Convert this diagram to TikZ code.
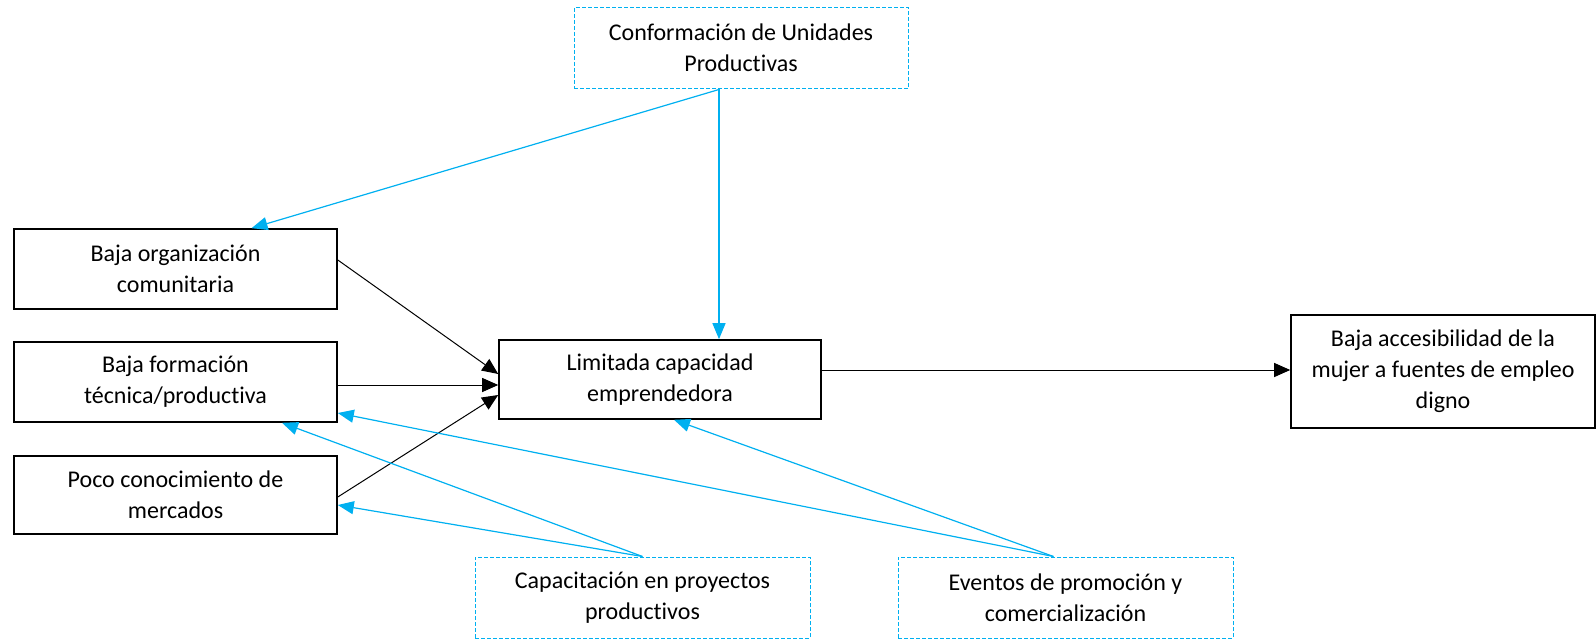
\documentclass[tikz,border=0pt]{standalone}
\usepackage{fontspec}
\setmainfont{Carlito}[RawFeature={-liga;-clig}]
\usetikzlibrary{arrows.meta}
\definecolor{cyanb}{RGB}{0,176,240}
\begin{document}
\begin{tikzpicture}[x=1pt,y=-1pt,
  bbox/.style={draw=black, line width=1.6pt, inner sep=0pt, align=center, font=\fontsize{24}{31}\selectfont},
  dbox/.style={draw=cyanb, line width=1pt, dash pattern=on 4pt off 2pt, inner sep=0pt, align=center, font=\fontsize{24}{31}\selectfont},
  blk/.style={draw=black, line width=1pt, -{Triangle[length=16pt,width=14pt]}},
  blu/.style={draw=cyanb, line width=1.2pt, -{Triangle[length=16pt,width=13pt]}}]
\useasboundingbox (0,0) rectangle (1596,639);
\node[dbox, minimum width=334pt, minimum height=81.5pt] (conf) at (741,48.25) {Conformación de Unidades\\Productivas};
\node[bbox, minimum width=323pt, minimum height=80pt] (b1) at (175.5,269) {Baja organización\\comunitaria};
\node[bbox, minimum width=323pt, minimum height=80pt] (b2) at (175.5,382) {Baja formación\\técnica/productiva};
\node[bbox, minimum width=323pt, minimum height=78pt] (b3) at (175.5,495) {Poco conocimiento de\\mercados};
\node[bbox, minimum width=322pt, minimum height=79pt] (mid) at (660,379.5) {Limitada capacidad\\emprendedora};
\node[bbox, minimum width=304pt, minimum height=113pt] (res) at (1443,371.5) {Baja accesibilidad de la\\mujer a fuentes de empleo\\digno};
\node[dbox, minimum width=335pt, minimum height=81pt] (cap) at (642.5,597.5) {Capacitación en proyectos\\productivos};
\node[dbox, minimum width=335pt, minimum height=81pt] (ev) at (1065.5,597.5) {Eventos de promoción y\\comercialización};

\draw[blu] ([xshift=-22pt]conf.south) -- ([xshift=59pt]mid.north);
\draw[blu] ([xshift=-22pt]conf.south) -- ([xshift=76pt]b1.north);

\draw[blk] ([yshift=9pt]b1.east) -- ([yshift=5.5pt]mid.west);
\draw[blk] ([yshift=-3pt]b2.east) -- ([yshift=-5.5pt]mid.west);
\draw[blk] ([yshift=-2pt]b3.east) -- ([yshift=-15.5pt]mid.west);
\draw[blk] ([yshift=9.5pt]mid.east) -- ([yshift=1.5pt]res.west);

\draw[blu] (cap.north) -- ([xshift=106.5pt]b2.south);
\draw[blu] (cap.north) -- ([yshift=-10pt]b3.east);
\draw[blu] ([xshift=-12pt]ev.north) -- ([yshift=-31pt]b2.east);
\draw[blu] ([xshift=-12pt]ev.north) -- ([xshift=14pt]mid.south);
\end{tikzpicture}
\end{document}
